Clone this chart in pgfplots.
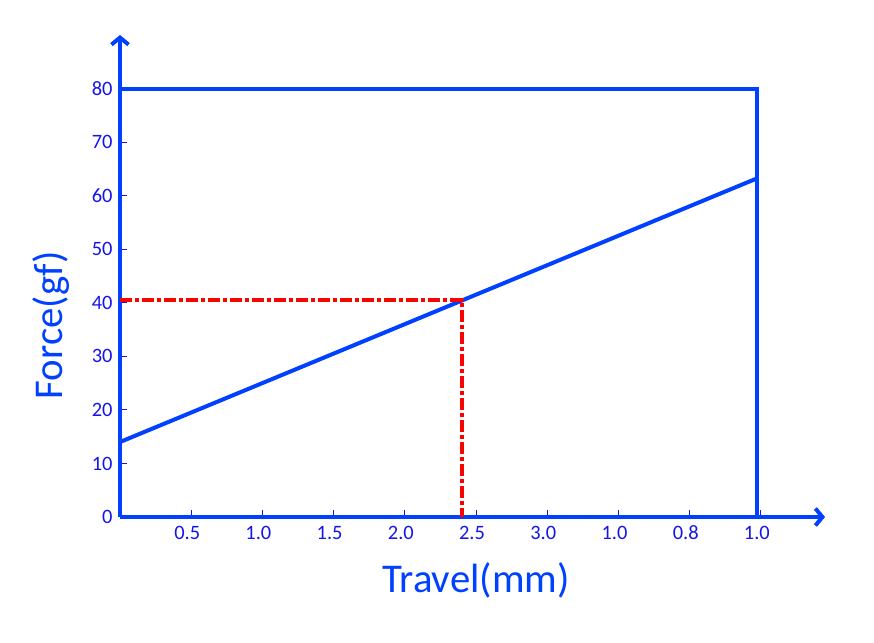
\documentclass[border=0pt]{standalone}
\usepackage{pgfplots}
\pgfplotsset{compat=1.18}
\usepackage{fontspec}
\setmainfont{Carlito}
\usetikzlibrary{arrows.meta}
\definecolor{lineblue}{RGB}{0,64,255}
\definecolor{tickblue}{RGB}{20,20,235}
\definecolor{dred}{RGB}{255,0,0}
\begin{document}
\begin{tikzpicture}
\path[use as bounding box] (-120bp,-126bp) rectangle (754bp,517bp);
\begin{axis}[
  scale only axis, width=705bp, height=482bp,
  at={(0,0)}, anchor=south west,
  xmin=0, xmax=4.95, ymin=0, ymax=90,
  clip=false,
  axis lines=left,
  axis line style={line width=4bp, lineblue, -{Straight Barb[length=7bp,width=17bp]}},
  xtick={0.5,1,1.5,2,2.5,3,3.5,4,4.5},
  xticklabels={0.5,1.0,1.5,2.0,2.5,3.0,1.0,0.8,1.0},
  ytick={0,10,20,30,40,50,60,70,80},
  tick align=inside, major tick length=7bp,
  tick style={line width=1bp, tickblue},
  /pgf/number format/assume math mode=true,
  tick label style={font=\fontsize{20.5}{24}\selectfont, text=tickblue},
  xticklabel style={xshift=-4bp, yshift=-5bp, text height=13.5bp, text depth=0bp},
  yticklabel style={xshift=-4bp},
  xlabel={Travel(mm)}, ylabel={Force(gf)},
  label style={font=\fontsize{41}{48}\selectfont, text=lineblue},
  xlabel style={at={(axis description cs:0.505,-0.131)}, anchor=center},
  ylabel style={at={(axis description cs:-0.098,0.398)}, anchor=center},
]
\addplot[lineblue, line width=4bp] coordinates {(0,80) (4.47,80) (4.47,0)};
\addplot[lineblue, line width=4bp] coordinates {(0,14.0) (4.47,63.2)};
\addplot[dred, line width=4bp, dash pattern=on 12bp off 3bp on 4bp off 3bp] coordinates {(0,40.5) (2.4,40.5) (2.4,0)};
\end{axis}
\end{tikzpicture}
\end{document}
